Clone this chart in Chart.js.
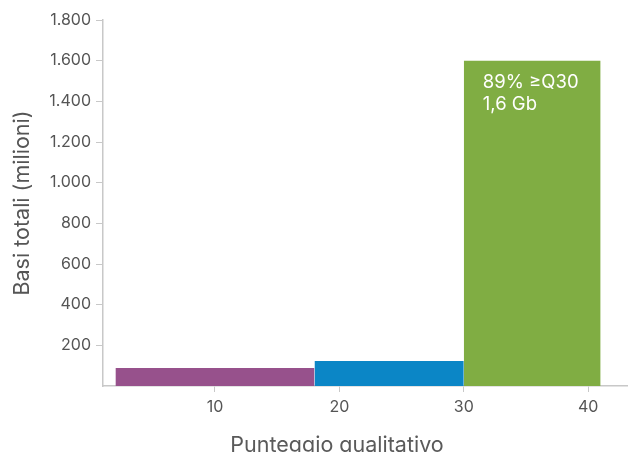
<!DOCTYPE html>
<html>
<head>
<meta charset="utf-8">
<script src="https://cdn.jsdelivr.net/npm/chart.js@4"></script>
<style>
  html, body { margin: 0; padding: 0; background: #fff; }
  #wrap { width: 628px; height: 452px; }
</style>
</head>
<body>
<div id="wrap"><canvas id="qChart" width="628" height="452"></canvas></div>
<script>
// bins of the quality score histogram
const binStart = [2, 18, 30];
const binEnd = [18, 30, 41];
const baseValues = [89, 123, 1600];
const binColors = ['#97518c', '#0b86c6', '#80ad43'];
const xTicks = [10, 20, 30, 40];
const yTicks = [200, 400, 600, 800, 1000, 1200, 1400, 1600, 1800];
const noteLines = ['89% \u2265Q30', '1,6 Gb'];

const datasets = binStart.map((s, i) => ({
    data: [{x: s, y: baseValues[i]}, {x: binEnd[i], y: baseValues[i]}],
    backgroundColor: binColors[i],
    borderWidth: 0,
    pointRadius: 0,
    fill: 'origin'
}));

const extras = {
    id: 'extras',
    afterDatasetsDraw(chart) {
        const c = chart.ctx, xs = chart.scales.x, ys = chart.scales.y;
        c.save();
        c.fillStyle = '#fff';
        c.font = '18.5px Inter';
        c.textBaseline = 'alphabetic';
        const x0 = xs.getPixelForValue(binStart[2]) + 19;
        const y0 = ys.getPixelForValue(baseValues[2]);
        noteLines.forEach((t, i) => c.fillText(t, x0, y0 + 27 + i * 22));
        // x axis title
        c.fillStyle = '#5a5a5a';
        c.font = '21.5px Inter';
        c.textAlign = 'center';
        c.fillText('Punteggio qualitativo', 337, 452);
        c.restore();
    }
};

const ctx = document.getElementById('qChart');
new Chart(ctx, {
    type: 'line',
    data: { datasets: datasets },
    options: {
        responsive: false,
        animation: false,
        layout: { padding: { top: 20, right: 0, bottom: 0, left: 0 } },
        plugins: { legend: { display: false }, tooltip: { enabled: false } },
        scales: {
            x: {
                type: 'linear',
                min: 1,
                max: 43.2,
                afterBuildTicks: s => { s.ticks = xTicks.map(v => ({value: v})); },
                afterFit: s => { s.height = 66; },
                grid: { drawOnChartArea: false, color: '#c8c8c8', tickLength: 6 },
                border: { color: '#c8c8c8', width: 1.5 },
                ticks: { color: '#555', font: { family: 'Inter', size: 16 }, padding: 6 }
            },
            y: {
                min: 0,
                max: 1800,
                afterBuildTicks: s => { s.ticks = yTicks.map(v => ({value: v})); },
                afterFit: s => { s.width = 103; },
                grid: { drawOnChartArea: false, color: '#c8c8c8', tickLength: 7 },
                border: { color: '#c8c8c8', width: 1.5 },
                ticks: {
                    color: '#555',
                    font: { family: 'Inter', size: 16 },
                    padding: 5,
                    callback: v => v.toLocaleString('de-DE')
                },
                title: {
                    display: true,
                    text: 'Basi totali (milioni)',
                    color: '#555',
                    font: { family: 'Inter', size: 21.5 },
                    padding: { top: 10, bottom: 0 }
                }
            }
        }
    },
    plugins: [extras]
});
</script>
</body>
</html>
